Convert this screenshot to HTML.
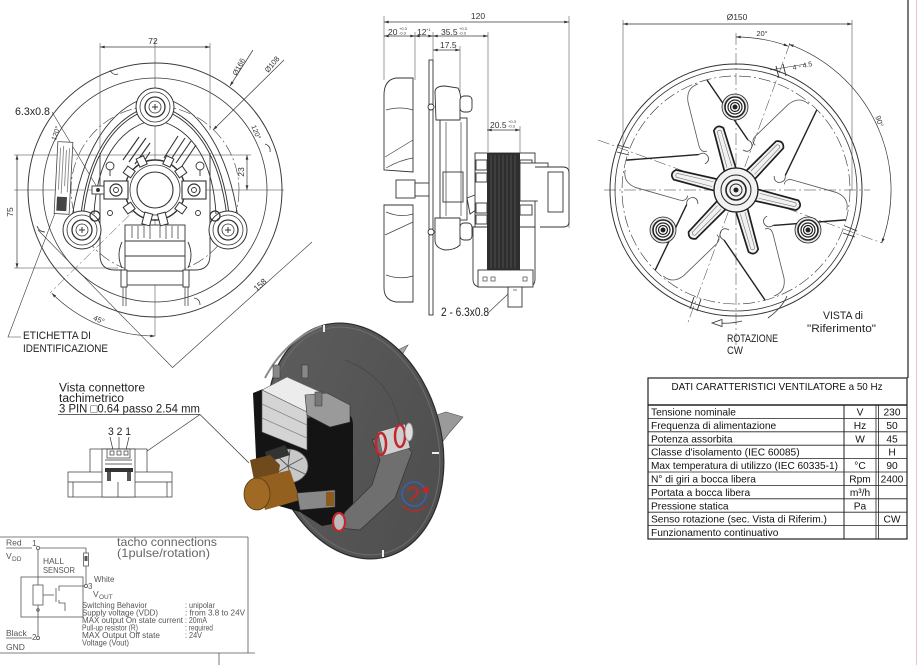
<!DOCTYPE html>
<html><head><meta charset="utf-8">
<style>
html,body{margin:0;padding:0;background:#fff;width:919px;height:665px;overflow:hidden}
svg{display:block}
</style></head>
<body>
<svg width="919" height="665" viewBox="0 0 919 665" xmlns="http://www.w3.org/2000/svg" font-family="Liberation Sans, Arial, sans-serif">
<defs>
<marker id="ar" viewBox="0 0 10 6" refX="10" refY="3" markerWidth="7" markerHeight="4" orient="auto-start-reverse"><path d="M0,0 L10,3 L0,6 Z" fill="#333"/></marker>
<linearGradient id="dg" x1="0" y1="0" x2="1" y2="1"><stop offset="0" stop-color="#5e5e5e"/><stop offset="1" stop-color="#4c4c4c"/></linearGradient>
</defs>
<rect width="919" height="665" fill="#fff"/>

<!-- right border lines -->
<line x1="908" y1="0" x2="908" y2="378" stroke="#222" stroke-width="1.2"/>
<line x1="916.5" y1="0" x2="916.5" y2="665" stroke="#e8c6c6" stroke-width="1"/>

<!-- ================= FRONT VIEW (left) ================= -->
<g fill="none" stroke="#3a3a3a" stroke-width="0.7">
 <line x1="155" y1="40" x2="155" y2="336" stroke-width="0.5"/>
 <line x1="14" y1="190" x2="284" y2="190" stroke-width="0.5"/>
 <line x1="14" y1="155" x2="251" y2="155" stroke-width="0.5"/>
 <line x1="14" y1="268" x2="118" y2="268" stroke-width="0.5"/>
 <line x1="100" y1="43" x2="100" y2="155" stroke-width="0.5"/>
 <line x1="210" y1="43" x2="210" y2="130" stroke-width="0.5"/>
 <line x1="100" y1="47" x2="210" y2="47" marker-start="url(#ar)" marker-end="url(#ar)"/>
 <line x1="17" y1="155" x2="17" y2="268" marker-start="url(#ar)" marker-end="url(#ar)"/>
 <line x1="247" y1="155" x2="247" y2="190" marker-start="url(#ar)" marker-end="url(#ar)"/>
 <circle cx="155" cy="190" r="127" stroke-width="1"/>
 <circle cx="155" cy="190" r="112" stroke-width="0.8"/>
 <circle cx="155" cy="190" r="84" stroke-dasharray="12 3 2 3" stroke-width="0.6"/>
 <!-- notches -->
 <path d="M110,70 q3,6 8,4" stroke-width="0.8"/>
 <path d="M265,144 q6,2 5,8" stroke-width="0.8"/>
 <path d="M37,226 q2,6 8,6" stroke-width="0.8"/>
 <path d="M194,298 q6,1 6,7" stroke-width="0.8"/>
 <!-- diagonals -->
 <line x1="38" y1="230" x2="172" y2="367" stroke-width="0.6"/>
 <line x1="312" y1="242" x2="172" y2="368" stroke-width="0.6"/>
 <line x1="155" y1="190" x2="50" y2="293" stroke-width="0.5" stroke-dasharray="10 3 2 3"/>
 <path d="M51.8,293.2 A146,146 0 0 0 155,336" marker-start="url(#ar)" marker-end="url(#ar)"/>
 <line x1="230" y1="86" x2="253" y2="50" marker-start="url(#ar)"/>
 <line x1="213" y1="130" x2="284" y2="60" marker-start="url(#ar)"/>
 <!-- leaders -->
 <line x1="52" y1="112" x2="97" y2="187" stroke-width="0.6"/>
 <polyline points="21,337 8,337 55,213" stroke-width="0.6"/>
</g>
<!-- bracket arches -->
<g fill="none" stroke="#333" stroke-width="0.9">
 <path d="M140,100 C110,112 82,150 72,218"/>
 <path d="M146,122 C118,132 97,160 94,214"/>
 <path d="M143,110 C114,122 89,154 82,216" stroke-width="3.4"/>
 <path d="M143,110 C114,122 89,154 82,216" stroke="#fff" stroke-width="1.5"/>
 <path d="M170,100 C200,112 228,150 238,218"/>
 <path d="M164,122 C192,132 213,160 216,214"/>
 <path d="M167,110 C196,122 221,154 228,216" stroke-width="3.4"/>
 <path d="M167,110 C196,122 221,154 228,216" stroke="#fff" stroke-width="1.5"/>
 <path d="M100,153 L100,255 Q100,270 115,270 L195,270 Q210,270 210,255 L210,153"/>
 <!-- hatched blades -->
 <g stroke-width="1.1">
 <line x1="123" y1="160" x2="139" y2="137"/><line x1="129" y1="162" x2="146" y2="138"/><line x1="135" y1="164" x2="150" y2="143"/><line x1="141" y1="166" x2="150" y2="152"/>
 <line x1="164" y1="158" x2="178" y2="136"/><line x1="170" y1="161" x2="185" y2="138"/><line x1="176" y1="163" x2="191" y2="141"/><line x1="182" y1="166" x2="196" y2="145"/>
 </g>
</g>
<!-- lobes -->
<g stroke="#333" fill="#fff">
 <g transform="translate(155,107)"><circle r="19" stroke-width="1"/><circle r="15" stroke-width="0.8"/><circle r="10" stroke-width="1.3"/><circle r="6" stroke-width="0.8"/><path d="M-3,0 H3 M0,-3 V3" stroke-width="1"/></g>
 <g transform="translate(82,230)"><circle r="19" stroke-width="1"/><circle r="15" stroke-width="0.8"/><circle r="10" stroke-width="1.3"/><circle r="6" stroke-width="0.8"/><path d="M-3,0 H3 M0,-3 V3" stroke-width="1"/></g>
 <g transform="translate(228,230)"><circle r="19" stroke-width="1"/><circle r="15" stroke-width="0.8"/><circle r="10" stroke-width="1.3"/><circle r="6" stroke-width="0.8"/><path d="M-3,0 H3 M0,-3 V3" stroke-width="1"/></g>
</g>
<g stroke="#333" fill="none" stroke-width="0.9">
 <circle cx="95" cy="216" r="5" stroke-width="1.2"/>
 <circle cx="215" cy="216" r="5" stroke-width="1.2"/>
 <circle cx="110" cy="166" r="4"/><line x1="110" y1="170" x2="110" y2="176"/>
 <circle cx="200" cy="166" r="4"/><line x1="200" y1="170" x2="200" y2="176"/>
 <circle cx="110" cy="213" r="2.5"/><circle cx="198" cy="213" r="2.5"/>
 <!-- motor coil front -->
 <rect x="125" y="225" width="60" height="60" fill="#fff"/>
 <line x1="125" y1="241" x2="185" y2="241"/><line x1="125" y1="256" x2="185" y2="256"/><line x1="125" y1="271" x2="185" y2="271"/>
 <path d="M132,226 v12 M138,226 v13 M144,226 v12 M150,226 v13 M160,226 v12 M166,226 v13 M172,226 v12 M178,226 v13" stroke-width="0.7"/>
 <rect x="121" y="270" width="6" height="17" fill="#fff"/><rect x="183" y="270" width="6" height="17" fill="#fff"/>
 <path d="M123,287 V306 M126,287 V306 M185,287 V306 M188,287 V306" stroke-width="0.7"/>
 <path d="M122,242 Q116,255 122,268 M188,242 Q194,255 188,268"/>
 <!-- hub -->
 <circle cx="155" cy="190" r="30" fill="#fff" stroke-width="1.4"/>
 <circle cx="155" cy="190" r="25" stroke-width="0.8"/>
 <circle cx="155" cy="190" r="18" fill="#fff" stroke-width="1.1"/>
 <g transform="translate(155,190)" fill="#fff" stroke-width="1">
  <rect x="-4" y="-36" width="8" height="9" transform="rotate(-25)"/>
  <rect x="-4" y="-36" width="8" height="9" transform="rotate(25)"/>
  <rect x="-4" y="-36" width="8" height="9" transform="rotate(-55)"/>
  <rect x="-4" y="-36" width="8" height="9" transform="rotate(55)"/>
  <rect x="-4" y="-36" width="8" height="9" transform="rotate(-125)"/>
  <rect x="-4" y="-36" width="8" height="9" transform="rotate(125)"/>
  <rect x="-4" y="-36" width="8" height="12" transform="rotate(165)"/>
  <rect x="-4" y="-36" width="8" height="12" transform="rotate(195)"/>
 </g>
 <!-- brush holders -->
 <rect x="104" y="181" width="24" height="18" fill="#fff" stroke-width="1.1"/>
 <circle cx="116" cy="190" r="6" stroke-width="1.2"/><circle cx="116" cy="190" r="2.5"/>
 <rect x="182" y="181" width="24" height="18" fill="#fff" stroke-width="1.1"/>
 <circle cx="194" cy="190" r="6" stroke-width="1.2"/><circle cx="194" cy="190" r="2.5"/>
 <rect x="92" y="186" width="12" height="8" fill="#fff"/>
 <circle cx="98" cy="190" r="1.5" fill="#333"/>
</g>
<!-- sticker -->
<g transform="rotate(3 64 178)">
 <rect x="56" y="142" width="15" height="72" fill="#fff" stroke="#444" stroke-width="0.8"/>
 <path d="M59,148 V190 M62,146 V194 M65,150 V186 M68,148 V192" stroke="#888" stroke-width="0.9"/>
 <rect x="58" y="197" width="10" height="14" fill="#444"/>
</g>
<!-- front view texts -->
<g fill="#333" font-size="8.5">
 <text x="153" y="44" text-anchor="middle">72</text>
 <text transform="translate(13,212) rotate(-90)" text-anchor="middle">75</text>
 <text transform="translate(244,172) rotate(-90)" text-anchor="middle">23</text>
 <text transform="translate(241,68) rotate(-62)" text-anchor="middle" font-size="7.5">Ø166</text>
 <text transform="translate(274,66) rotate(-50)" text-anchor="middle" font-size="7.5">Ø108</text>
 <text transform="translate(58,134) rotate(-72)" text-anchor="middle" font-size="7">120°</text>
 <text transform="translate(254,133) rotate(68)" text-anchor="middle" font-size="7">120°</text>
 <text transform="translate(262,287) rotate(-42)" text-anchor="middle">158</text>
 <text transform="translate(98,322) rotate(22)" text-anchor="middle" font-size="7.5">45°</text>
</g>
<text x="15" y="115" font-size="11" fill="#222" textLength="35" lengthAdjust="spacingAndGlyphs">6.3x0.8</text>
<text x="23" y="339" font-size="11" fill="#222" textLength="68" lengthAdjust="spacingAndGlyphs">ETICHETTA DI</text>
<text x="23" y="352" font-size="11" fill="#222" textLength="85" lengthAdjust="spacingAndGlyphs">IDENTIFICAZIONE</text>

<!-- ================= SIDE VIEW (middle) ================= -->
<g fill="none" stroke="#3a3a3a" stroke-width="0.7">
 <line x1="384" y1="22" x2="569" y2="22" marker-start="url(#ar)" marker-end="url(#ar)"/>
 <line x1="384" y1="16" x2="384" y2="80" stroke-width="0.5"/>
 <line x1="569" y1="16" x2="569" y2="228" stroke-width="0.5"/>
 <line x1="384" y1="36" x2="415" y2="36" marker-start="url(#ar)" marker-end="url(#ar)"/>
 <line x1="415" y1="36" x2="433" y2="36" marker-start="url(#ar)" marker-end="url(#ar)"/>
 <line x1="433" y1="36" x2="488" y2="36" marker-start="url(#ar)" marker-end="url(#ar)"/>
 <line x1="415" y1="32" x2="415" y2="80" stroke-width="0.5"/>
 <line x1="433" y1="32" x2="433" y2="60" stroke-width="0.5"/>
 <line x1="488" y1="32" x2="488" y2="152" stroke-width="0.5"/>
 <line x1="433" y1="50" x2="460" y2="50" marker-start="url(#ar)" marker-end="url(#ar)"/>
 <line x1="460" y1="46" x2="460" y2="92" stroke-width="0.5"/>
 <line x1="487" y1="130" x2="520" y2="130" marker-start="url(#ar)" marker-end="url(#ar)"/>
 <line x1="520" y1="126" x2="520" y2="153" stroke-width="0.5"/>
</g>
<g fill="#333" font-size="8.5">
 <text x="478" y="19" text-anchor="middle">120</text>
 <text x="388" y="35">20</text><text x="399" y="30" font-size="4">+0.3</text><text x="399" y="34.5" font-size="4">-0.3</text>
 <text x="417" y="35">12</text><text x="426" y="31" font-size="4">+1</text>
 <text x="441" y="35">35.5</text><text x="459" y="30" font-size="4">+0.3</text><text x="459" y="34.5" font-size="4">-0.3</text>
 <text x="440" y="48">17.5</text>
 <text x="490" y="128">20.5</text><text x="508" y="123" font-size="4">+0.3</text><text x="508" y="127.5" font-size="4">-0.3</text>
</g>
<g fill="#fff" stroke="#333" stroke-width="0.9">
 <!-- impeller -->
 <path d="M413,78 L396,78 Q384,80 384,95 L384,170 L413,172 Z"/>
 <path d="M384,205 L413,205 L413,302 L396,302 Q384,300 384,288 Z"/>
 <rect x="396" y="180" width="19" height="18"/>
 <rect x="415" y="183" width="15" height="13"/>
 <!-- plate -->
 <rect x="429" y="60" width="4" height="255"/>
 <circle cx="431" cy="107" r="3"/><circle cx="431" cy="232" r="3"/>
 <!-- bracket -->
 <rect x="440" y="118" width="27" height="102"/>
 <path d="M435,92 Q435,86 445,86 L458,88 Q462,95 460,105 L460,120 L436,120 Z"/>
 <rect x="460" y="96" width="12" height="16" rx="4"/>
 <path d="M435,218 L460,218 L460,245 Q455,250 445,250 Q435,248 435,240 Z"/>
 <rect x="460" y="223" width="12" height="17" rx="4"/>
 <rect x="443" y="172" width="20" height="30"/>
 <path d="M467,198 L488,190 L488,202 L470,214 Z"/>
 <!-- motor -->
 <rect x="475" y="153" width="60" height="74"/>
 <rect x="476" y="160" width="11" height="10"/><rect x="476" y="173" width="11" height="9"/>
 <rect x="476" y="203" width="11" height="10"/><rect x="476" y="215" width="11" height="9"/>
 <rect x="520" y="160" width="12" height="10"/><rect x="520" y="205" width="12" height="10"/>
 <path d="M473,227 L535,227 L535,279 Q535,287 527,287 L481,287 Q473,287 473,279 Z"/>
 <rect x="478" y="270" width="55" height="17"/>
 <rect x="508" y="287" width="14" height="20"/>
 <rect x="520" y="163" width="28" height="38"/>
 <path d="M535,167 L563,167 Q569,167 569,173 L569,222 Q569,227 563,227 L540,227"/>
 <rect x="548" y="172" width="15" height="40"/>
</g>
<g fill="none" stroke="#444" stroke-width="0.7">
 <path d="M386,110 Q400,106 413,110 M385,157 L413,140 M386,168 Q400,160 413,158 M386,212 Q400,218 413,214 M385,235 L413,222 M386,275 Q400,280 413,276"/>
 <path d="M446,122 V216 M461,122 V216"/>
 <rect x="483" y="277" width="4" height="4"/><rect x="491" y="277" width="4" height="4"/><rect x="523" y="277" width="4" height="4"/>
 <line x1="513" y1="290" x2="517" y2="290"/>
 <line x1="488" y1="313" x2="508" y2="294"/>
</g>
<rect x="487" y="153" width="33" height="117" fill="#2e2e2e"/>
<path d="M491,155 V268 M495,155 V268 M499,155 V268 M503,155 V268 M507,155 V268 M511,155 V268 M515,155 V268" stroke="#575757" stroke-width="0.8"/>
<text x="441" y="316" font-size="12" fill="#222" textLength="48" lengthAdjust="spacingAndGlyphs">2 - 6.3x0.8</text>

<!-- ================= RIGHT VIEW ================= -->
<g fill="none" stroke="#333" stroke-width="0.7">
 <line x1="623" y1="20" x2="623" y2="147" stroke-width="0.5"/>
 <line x1="852" y1="20" x2="852" y2="190" stroke-width="0.5"/>
 <line x1="623" y1="24" x2="852" y2="24" marker-start="url(#ar)" marker-end="url(#ar)"/>
 <circle cx="736" cy="190" r="126" stroke-width="1"/>
 <circle cx="736" cy="190" r="121" stroke-width="0.8"/>
 <circle cx="736" cy="190" r="114" stroke-width="0.6" stroke-dasharray="12 3 2 3"/>
 <line x1="736" y1="33" x2="736" y2="345" stroke-width="0.5" stroke-dasharray="12 3 2 3"/>
 <line x1="604" y1="190" x2="870" y2="190" stroke-width="0.5" stroke-dasharray="12 3 2 3"/>
 <line x1="598" y1="140" x2="882" y2="243" stroke-width="0.5" stroke-dasharray="12 3 2 3"/>
 <line x1="790" y1="43" x2="687" y2="325" stroke-width="0.5" stroke-dasharray="12 3 2 3"/>
 <path d="M736,37 A153,153 0 0 1 788.3,46.2" marker-start="url(#ar)" marker-end="url(#ar)"/>
 <path d="M789,44.3 A155,155 0 0 1 881.7,243" marker-start="url(#ar)" marker-end="url(#ar)"/>
 <!-- notches -->
 <path d="M776,66 L779,78 M783,64 L786,76" stroke-width="0.9"/>
 <path d="M617,145 L629,148 M617,152 L629,155" stroke-width="0.9"/>
 <path d="M845,226 L857,231 M843,233 L855,237" stroke-width="0.9"/>
 <path d="M694,297 L690,309 M701,299 L697,311" stroke-width="0.9"/>
 <path d="M770,70 L806,64" stroke-width="0.6"/>
 <path d="M787,296 Q782,308 768,318" stroke-width="0.8"/>
</g>
<!-- blades -->
<g transform="translate(736,190)" fill="none">
 <g><path d="M-29,-110 L12,-50" stroke="#222" stroke-width="1.4"/><path d="M12,-50 q6,3 3,9 q-3,4 -8,1" stroke="#444" stroke-width="0.8"/><path d="M-38,-106 Q-50,-102 -48,-88 L-37,-44 Q-35,-37 -29,-39" stroke="#555" stroke-width="0.8"/></g>
 <g transform="rotate(60)"><path d="M-29,-110 L12,-50" stroke="#222" stroke-width="1.4"/><path d="M12,-50 q6,3 3,9 q-3,4 -8,1" stroke="#444" stroke-width="0.8"/><path d="M-38,-106 Q-50,-102 -48,-88 L-37,-44 Q-35,-37 -29,-39" stroke="#555" stroke-width="0.8"/></g>
 <g transform="rotate(120)"><path d="M-29,-110 L12,-50" stroke="#222" stroke-width="1.4"/><path d="M12,-50 q6,3 3,9 q-3,4 -8,1" stroke="#444" stroke-width="0.8"/><path d="M-38,-106 Q-50,-102 -48,-88 L-37,-44 Q-35,-37 -29,-39" stroke="#555" stroke-width="0.8"/></g>
 <g transform="rotate(180)"><path d="M-29,-110 L12,-50" stroke="#222" stroke-width="1.4"/><path d="M12,-50 q6,3 3,9 q-3,4 -8,1" stroke="#444" stroke-width="0.8"/><path d="M-38,-106 Q-50,-102 -48,-88 L-37,-44 Q-35,-37 -29,-39" stroke="#555" stroke-width="0.8"/></g>
 <g transform="rotate(240)"><path d="M-29,-110 L12,-50" stroke="#222" stroke-width="1.4"/><path d="M12,-50 q6,3 3,9 q-3,4 -8,1" stroke="#444" stroke-width="0.8"/><path d="M-38,-106 Q-50,-102 -48,-88 L-37,-44 Q-35,-37 -29,-39" stroke="#555" stroke-width="0.8"/></g>
 <g transform="rotate(300)"><path d="M-29,-110 L12,-50" stroke="#222" stroke-width="1.4"/><path d="M12,-50 q6,3 3,9 q-3,4 -8,1" stroke="#444" stroke-width="0.8"/><path d="M-38,-106 Q-50,-102 -48,-88 L-37,-44 Q-35,-37 -29,-39" stroke="#555" stroke-width="0.8"/></g>
 <!-- hub star -->
 <g fill="#f2f2f2" stroke="#1e1e1e" stroke-width="1.7">
  <path transform="rotate(-46)" d="M18,-6 L63,-5 Q69,0 63,5 L18,6 Z"/>
  <path transform="rotate(-106)" d="M18,-6 L63,-5 Q69,0 63,5 L18,6 Z"/>
  <path transform="rotate(-166)" d="M18,-6 L63,-5 Q69,0 63,5 L18,6 Z"/>
  <path transform="rotate(14)" d="M18,-6 L63,-5 Q69,0 63,5 L18,6 Z"/>
  <path transform="rotate(74)" d="M18,-6 L63,-5 Q69,0 63,5 L18,6 Z"/>
  <path transform="rotate(134)" d="M18,-6 L63,-5 Q69,0 63,5 L18,6 Z"/>
 </g>
 <g fill="none" stroke="#777" stroke-width="0.6">
  <path transform="rotate(-46)" d="M24,-2.5 L61,-2 Q63,0 61,2 L24,2.5"/>
  <path transform="rotate(-106)" d="M24,-2.5 L61,-2 Q63,0 61,2 L24,2.5"/>
  <path transform="rotate(-166)" d="M24,-2.5 L61,-2 Q63,0 61,2 L24,2.5"/>
  <path transform="rotate(14)" d="M24,-2.5 L61,-2 Q63,0 61,2 L24,2.5"/>
  <path transform="rotate(74)" d="M24,-2.5 L61,-2 Q63,0 61,2 L24,2.5"/>
  <path transform="rotate(134)" d="M24,-2.5 L61,-2 Q63,0 61,2 L24,2.5"/>
 </g>
 <circle r="22" fill="#f2f2f2" stroke="#222" stroke-width="1.3"/>
 <circle r="15" stroke="#222" stroke-width="1"/>
 <circle r="10" stroke="#222" stroke-width="1.6"/>
 <circle r="6" stroke="#222" stroke-width="1"/>
 <circle r="2.5" fill="#222"/>
</g>
<!-- bearings -->
<g stroke="#222">
 <g transform="translate(735,107)"><circle r="13" fill="#e6e6e6" stroke-width="0.8"/><circle r="10" fill="#fff" stroke-width="1.6"/><circle r="7" fill="none" stroke-width="1.2"/><circle r="4.5" fill="none" stroke-width="1.2"/><circle r="2" fill="#222"/></g>
 <g transform="translate(663,230)"><circle r="13" fill="#e6e6e6" stroke-width="0.8"/><circle r="10" fill="#fff" stroke-width="1.6"/><circle r="7" fill="none" stroke-width="1.2"/><circle r="4.5" fill="none" stroke-width="1.2"/><circle r="2" fill="#222"/></g>
 <g transform="translate(808,230)"><circle r="13" fill="#e6e6e6" stroke-width="0.8"/><circle r="10" fill="#fff" stroke-width="1.6"/><circle r="7" fill="none" stroke-width="1.2"/><circle r="4.5" fill="none" stroke-width="1.2"/><circle r="2" fill="#222"/></g>
</g>
<g fill="#333" font-size="8.5">
 <text x="737" y="20" text-anchor="middle">Ø150</text>
 <text x="762" y="36" text-anchor="middle" font-size="7.5">20°</text>
 <text transform="translate(803,68) rotate(-12)" text-anchor="middle" font-size="7">4 - 4.5</text>
 <text transform="translate(877,122) rotate(72)" text-anchor="middle" font-size="7.5">90°</text>
</g>
<path d="M742,321 Q730,324 720,323" fill="none" stroke="#333" stroke-width="0.8"/>
<polygon points="712,323 722,319.5 722,326.5" fill="#fff" stroke="#333" stroke-width="0.8"/>
<g fill="#222" font-size="11">
 <text x="823" y="319" textLength="40" lengthAdjust="spacingAndGlyphs">VISTA di</text>
 <text x="807" y="332" textLength="69" lengthAdjust="spacingAndGlyphs">"Riferimento"</text>
 <text x="727" y="342" textLength="51" lengthAdjust="spacingAndGlyphs">ROTAZIONE</text>
 <text x="727" y="354" textLength="16" lengthAdjust="spacingAndGlyphs">CW</text>
</g>

<!-- ================= TABLE ================= -->
<g stroke="#222" fill="none">
 <rect x="648" y="378" width="259" height="161" stroke-width="1.2"/>
 <line x1="648" y1="405" x2="907" y2="405" stroke-width="1.6"/>
 <g stroke-width="0.8">
 <line x1="648" y1="418.4" x2="907" y2="418.4"/>
 <line x1="648" y1="431.8" x2="907" y2="431.8"/>
 <line x1="648" y1="445.2" x2="907" y2="445.2"/>
 <line x1="648" y1="458.6" x2="907" y2="458.6"/>
 <line x1="648" y1="472" x2="907" y2="472"/>
 <line x1="648" y1="485.4" x2="907" y2="485.4"/>
 <line x1="648" y1="498.8" x2="907" y2="498.8"/>
 <line x1="648" y1="512.2" x2="907" y2="512.2"/>
 <line x1="648" y1="525.6" x2="907" y2="525.6"/>
 </g>
 <line x1="844" y1="405" x2="844" y2="539" stroke-width="1"/>
 <line x1="876" y1="405" x2="876" y2="539" stroke-width="0.8"/>
 <line x1="878.5" y1="405" x2="878.5" y2="539" stroke-width="0.8"/>
</g>
<g fill="#111" font-size="10.2">
 <text x="777" y="390" text-anchor="middle" textLength="211" lengthAdjust="spacingAndGlyphs">DATI CARATTERISTICI VENTILATORE a 50 Hz</text>
 <text x="651" y="415.5">Tensione  nominale</text>
 <text x="651" y="428.9">Frequenza di alimentazione</text>
 <text x="651" y="442.3">Potenza assorbita</text>
 <text x="651" y="455.7">Classe d'isolamento (IEC 60085)</text>
 <text x="651" y="469.1" textLength="187" lengthAdjust="spacingAndGlyphs">Max temperatura di utilizzo (IEC 60335-1)</text>
 <text x="651" y="482.5">N° di giri a bocca libera</text>
 <text x="651" y="495.9">Portata a bocca libera</text>
 <text x="651" y="509.3">Pressione statica</text>
 <text x="651" y="522.7">Senso rotazione (sec. Vista di Riferim.)</text>
 <text x="651" y="536.1">Funzionamento continuativo</text>
 <g text-anchor="middle">
 <text x="860" y="415.5">V</text><text x="892" y="415.5">230</text>
 <text x="860" y="428.9">Hz</text><text x="892" y="428.9">50</text>
 <text x="860" y="442.3">W</text><text x="892" y="442.3">45</text>
 <text x="892" y="455.7">H</text>
 <text x="860" y="469.1">°C</text><text x="892" y="469.1">90</text>
 <text x="860" y="482.5">Rpm</text><text x="892" y="482.5">2400</text>
 <text x="860" y="495.9">m³/h</text>
 <text x="860" y="509.3">Pa</text>
 <text x="892" y="522.7">CW</text>
 </g>
</g>

<!-- ================= CONNECTOR VIEW ================= -->
<g fill="#222" font-size="11.5">
 <text x="59" y="391.5" textLength="86" lengthAdjust="spacingAndGlyphs">Vista connettore</text>
 <text x="59" y="402" textLength="65" lengthAdjust="spacingAndGlyphs">tachimetrico</text>
 <text x="59" y="412.5" textLength="141" lengthAdjust="spacingAndGlyphs">3 PIN □0.64 passo 2.54 mm</text>
 <text x="108" y="435" font-size="11" textLength="23" lengthAdjust="spacingAndGlyphs">3 2 1</text>
</g>
<g fill="none" stroke="#333" stroke-width="0.7">
 <line x1="58" y1="414.5" x2="200" y2="414.5"/>
 <line x1="200" y1="414.5" x2="249" y2="463"/>
 <line x1="200" y1="414.5" x2="137" y2="458"/>
 <path d="M110,437 L113,450 M119,437 L119,450 M129,437 L126,450"/>
 <rect x="90" y="449" width="57" height="31" fill="#fff"/>
 <rect x="68" y="472" width="104" height="25" fill="#fff"/>
 <rect x="102" y="449" width="33" height="48" fill="#fff"/>
 <rect x="107" y="449" width="23" height="9"/>
 <rect x="110" y="451" width="4" height="4"/><rect x="117" y="451" width="4" height="4"/><rect x="124" y="451" width="4" height="4"/>
 <line x1="68" y1="482" x2="102" y2="482"/><line x1="135" y1="482" x2="172" y2="482"/>
 <line x1="118" y1="482" x2="118" y2="497"/>
 <line x1="73" y1="482" x2="73" y2="497"/><line x1="167" y1="482" x2="167" y2="497"/>
 <path d="M105,460 H132 M105,464 H132"/>
</g>
<rect x="105" y="468" width="28" height="4" fill="#333"/>
<rect x="107" y="472" width="4" height="9" fill="#555"/><rect x="127" y="472" width="4" height="9" fill="#555"/>

<!-- ================= TACHO BOX ================= -->
<g fill="none" stroke="#555" stroke-width="0.8">
 <line x1="0" y1="537" x2="248" y2="537"/>
 <line x1="248" y1="537" x2="248" y2="653"/>
 <line x1="0" y1="653" x2="255" y2="653"/>
 <line x1="219" y1="653" x2="219" y2="665"/>
 <line x1="6" y1="548" x2="32" y2="548"/>
 <circle cx="38" cy="548" r="1.6"/>
 <line x1="39.6" y1="548" x2="86" y2="548"/>
 <line x1="86" y1="548" x2="86" y2="553"/>
 <rect x="83.5" y="553" width="5" height="13"/>
 <line x1="86" y1="566" x2="86" y2="584.4"/>
 <circle cx="86" cy="586" r="1.6"/>
 <line x1="38" y1="549.6" x2="38" y2="636.4"/>
 <circle cx="38" cy="638" r="1.6"/>
 <line x1="6" y1="638" x2="32" y2="638"/>
 <rect x="21" y="577" width="62" height="40"/>
 <rect x="33" y="585" width="10" height="20" fill="#fff"/>
 <line x1="43" y1="595" x2="54" y2="595"/>
 <line x1="56" y1="588" x2="56" y2="602"/>
 <polyline points="59,591 59,586 84.4,586"/>
 <polyline points="59,600 59,603 65,603 65,611"/>
 <circle cx="38" cy="610" r="1.3"/>
</g>
<rect x="84.5" y="556" width="3" height="5" fill="#555"/>
<g fill="#555" font-size="8.5">
 <text x="6" y="545.5">Red</text>
 <text x="32" y="546">1</text>
 <text x="6" y="559">V</text><text x="12" y="561" font-size="6.5">DD</text>
 <text x="43" y="564" textLength="21" lengthAdjust="spacingAndGlyphs">HALL</text>
 <text x="43" y="573" textLength="32" lengthAdjust="spacingAndGlyphs">SENSOR</text>
 <text x="88" y="589" font-size="8">3</text>
 <text x="94" y="582" font-size="8">White</text>
 <text x="93" y="597">V</text><text x="99" y="599" font-size="6.5">OUT</text>
 <text x="6" y="636">Black</text>
 <text x="32" y="640" font-size="8">2</text>
 <text x="6" y="650">GND</text>
 <text x="117" y="546" font-size="12" textLength="100" lengthAdjust="spacingAndGlyphs" fill="#666">tacho connections</text>
 <text x="117" y="557" font-size="12" textLength="93" lengthAdjust="spacingAndGlyphs" fill="#666">(1pulse/rotation)</text>
</g>
<g fill="#555" font-size="7.8">
 <text x="82" y="608" textLength="65" lengthAdjust="spacingAndGlyphs">Switching Behavior</text>
 <text x="82" y="615.5" textLength="76" lengthAdjust="spacingAndGlyphs">Supply voltage (VDD)</text>
 <text x="82" y="623" textLength="101" lengthAdjust="spacingAndGlyphs">MAX output On state current</text>
 <text x="82" y="630.5" textLength="56" lengthAdjust="spacingAndGlyphs">Pull-up resistor (R)</text>
 <text x="82" y="638" textLength="78" lengthAdjust="spacingAndGlyphs">MAX Output Off state</text>
 <text x="82" y="645.5" textLength="47" lengthAdjust="spacingAndGlyphs">Voltage (Vout)</text>
 <text x="185" y="608" textLength="30" lengthAdjust="spacingAndGlyphs">: unipolar</text>
 <text x="185" y="615.5" textLength="60" lengthAdjust="spacingAndGlyphs">: from 3.8 to 24V</text>
 <text x="185" y="623" textLength="22" lengthAdjust="spacingAndGlyphs">: 20mA</text>
 <text x="185" y="630.5" textLength="28" lengthAdjust="spacingAndGlyphs">: required</text>
 <text x="185" y="638" textLength="17" lengthAdjust="spacingAndGlyphs">: 24V</text>
</g>

<!-- ================= 3D RENDER ================= -->
<g>
 <polygon points="381,364 394,352 408,345 399,360 390,368" fill="#a8a8a8" stroke="#555" stroke-width="0.6"/>
 <polygon points="428,418 446,412 463,417 450,432 440,445" fill="#9a9a9a" stroke="#555" stroke-width="0.6"/>
 <ellipse cx="355" cy="441" rx="86" ry="120" transform="rotate(-15.5 355 441)" fill="url(#dg)" stroke="#2b2b2b" stroke-width="1.2"/>
 <ellipse cx="355" cy="441" rx="82" ry="116" transform="rotate(-15.5 355 441)" fill="none" stroke="#6c6c6c" stroke-width="1"/>
 <path d="M265,378 Q285,340 322,326" fill="none" stroke="#8a8a8a" stroke-width="2"/>
 <path d="M345,360 Q395,380 400,430 Q398,470 360,500" fill="none" stroke="#4a4a4a" stroke-width="1.2"/>
 <rect x="323" y="325" width="2" height="7" fill="#eee"/>
 <rect x="432" y="452" width="7" height="2" fill="#eee"/>
 <rect x="382" y="550" width="2" height="7" fill="#eee"/>
 <!-- black stator -->
 <path d="M253,393 L263,389 L263,428 L312,417 L340,410 Q353,412 353,425 L353,520 L322,526 L300,512 L258,500 Z" fill="#141414"/>
 <!-- white bobbin -->
 <polygon points="262,390 287,377 327,395 307,412" fill="#ececec" stroke="#666" stroke-width="0.6"/>
 <polygon points="262,390 307,412 307,450 262,432" fill="#d4d4d4" stroke="#555" stroke-width="0.6"/>
 <path d="M262,404 L307,425 M262,418 L307,438" stroke="#8a8a8a" stroke-width="0.8"/>
 <polygon points="305,395 327,393 350,405 350,422 330,427 307,415" fill="#9a9a9a" stroke="#333" stroke-width="0.6"/>
 <rect x="315" y="392" width="7" height="14" fill="#777" stroke="#333" stroke-width="0.5"/>
 <rect x="273" y="365" width="7" height="13" fill="#888" stroke="#333" stroke-width="0.5"/>
 <rect x="302" y="365" width="6" height="13" fill="#888" stroke="#333" stroke-width="0.5"/>
 <!-- fan wheel -->
 <ellipse cx="288" cy="466" rx="20" ry="17" fill="#c8c8c8" stroke="#555" stroke-width="0.8"/>
 <path d="M288,466 L275,454 M288,466 L290,450 M288,466 L303,458 M288,466 L305,474 M288,466 L292,482 M288,466 L272,476" stroke="#555" stroke-width="0.9"/>
 <!-- brown capacitor -->
 <polygon points="265,452 285,445 290,455 268,462" fill="#333"/>
 <polygon points="250,460 270,455 280,465 277,483 255,485" fill="#6e4a1c"/>
 <polygon points="257,478 290,470 300,500 265,510" fill="#93601f"/>
 <ellipse cx="257" cy="494" rx="13" ry="16" fill="#a06a25" stroke="#5a3a10" stroke-width="0.8"/>
 <polygon points="297,493 335,490 335,507 300,510" fill="#888" stroke="#333" stroke-width="0.6"/>
 <rect x="326" y="492" width="8" height="14" fill="#8b5a20"/>
 <!-- bearing arm -->
 <polygon points="372,440 392,432 412,452 395,498 360,530 338,528 345,512 372,485 380,460" fill="#6f6f6f" stroke="#333" stroke-width="0.7"/>
 <path d="M378,432 L405,424 L410,448 L383,456 Z" fill="#cfcfcf" stroke="#444" stroke-width="0.5"/>
 <ellipse cx="381" cy="444" rx="5" ry="11" fill="none" stroke="#c0282d" stroke-width="2.5"/>
 <ellipse cx="400" cy="436" rx="5" ry="11" fill="none" stroke="#c0282d" stroke-width="2.5"/>
 <ellipse cx="409" cy="432" rx="4" ry="9" fill="#ddd" stroke="#888" stroke-width="0.8"/>
 <ellipse cx="339" cy="522" rx="6" ry="9" fill="#bbb" stroke="#c0282d" stroke-width="2.2"/>
 <!-- logo -->
 <circle cx="414" cy="494" r="12" fill="none" stroke="#3a5fb0" stroke-width="1.6"/>
 <path d="M408,490 q6,-6 10,2 q-4,6 -8,8" fill="none" stroke="#c02828" stroke-width="2"/>
 <circle cx="426" cy="490" r="3" fill="#d02020"/>
 <path d="M402,506 q12,10 26,0" fill="none" stroke="#c02828" stroke-width="1.2"/>
</g>
</svg>
</body>
</html>
